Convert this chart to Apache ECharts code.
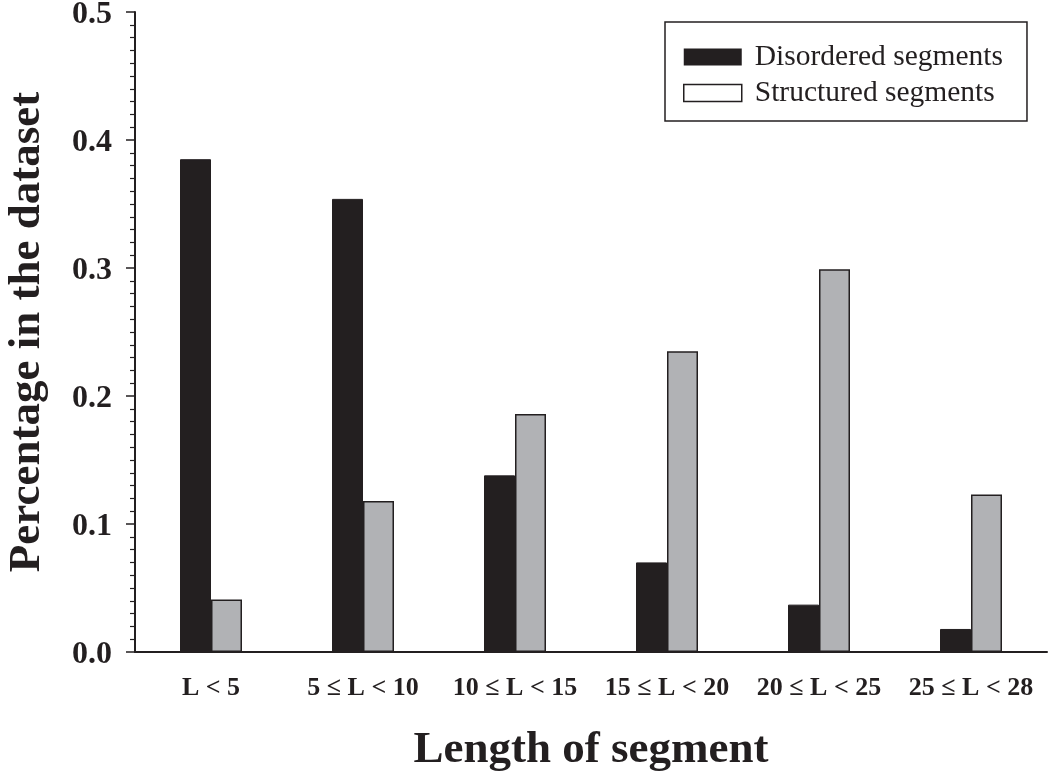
<!DOCTYPE html>
<html>
<head>
<meta charset="utf-8">
<style>
  html, body { margin: 0; padding: 0; background: #fff; }
  #chart { width: 1050px; height: 778px; }
</style>
<script src="https://cdn.jsdelivr.net/npm/echarts@6/dist/echarts.min.js"></script>
</head>
<body>
<div id="chart"></div>
<script>
// categories and values
var categories = ['L < 5', '5 \u2264 L < 10', '10 \u2264 L < 15', '15 \u2264 L < 20', '20 \u2264 L < 25', '25 \u2264 L < 28'];
var disordered = [0.385, 0.354, 0.138, 0.070, 0.037, 0.018];
var structured = [0.041, 0.118, 0.186, 0.235, 0.299, 0.123];
var yTicks = [0, 0.1, 0.2, 0.3, 0.4, 0.5];

var serif = '"Liberation Serif", "Times New Roman", serif';

var chart = echarts.init(document.getElementById('chart'));
var option = {
    backgroundColor: '#fff',
    animation: false,
    textStyle: { fontFamily: serif },
    grid: { left: 135, right: 3, top: 12, bottom: 126, containLabel: false, outerBoundsMode: 'none' },
    legend: {
        orient: 'vertical',
        left: 665,
        top: 22,
        borderColor: '#231f20',
        borderWidth: 1.5,
        padding: [20, 24, 13, 18],
        itemWidth: 58,
        itemHeight: 17,
        itemGap: 6,
        textStyle: { fontFamily: serif, fontSize: 29.5, color: '#231f20', padding: [0, 0, 0, 8] },
        data: [
            { name: 'Disordered segments', icon: 'rect', itemStyle: { color: '#231f20', borderWidth: 0 } },
            { name: 'Structured segments', icon: 'rect', itemStyle: { color: '#fff', borderColor: '#231f20', borderWidth: 1.5 } }
        ]
    },
    xAxis: {
        type: 'category',
        data: categories,
        name: 'Length of segment',
        nameLocation: 'middle',
        nameGap: 76,
        nameTextStyle: { fontFamily: serif, fontSize: 45, fontWeight: 'bold', color: '#231f20' },
        axisLine: { lineStyle: { color: '#231f20', width: 2 } },
        axisTick: { alignWithLabel: true, length: 10, lineStyle: { color: '#231f20', width: 1.5 } },
        axisLabel: { interval: 0, margin: 23, fontFamily: serif, fontSize: 26, fontWeight: 'bold', color: '#231f20' },
        splitLine: { show: false }
    },
    yAxis: {
        type: 'value',
        min: yTicks[0],
        max: yTicks[yTicks.length - 1],
        interval: 0.1,
        name: 'Percentage in the dataset',
        nameLocation: 'middle',
        nameGap: 85,
        nameTextStyle: { fontFamily: serif, fontSize: 45, fontWeight: 'bold', color: '#231f20' },
        axisLine: { show: true, lineStyle: { color: '#231f20', width: 2 } },
        axisTick: { show: true, length: 9, lineStyle: { color: '#231f20', width: 1.5 } },
        minorTick: { show: true, splitNumber: 10, length: 5, lineStyle: { color: '#231f20', width: 1.2 } },
        axisLabel: {
            margin: 23,
            verticalAlign: 'top',
            lineHeight: 6,
            fontFamily: serif, fontSize: 32, fontWeight: 'bold', color: '#231f20',
            formatter: function (v) { return v.toFixed(1); }
        },
        splitLine: { show: false }
    },
    series: [
        {
            name: 'Disordered segments',
            type: 'bar',
            data: disordered,
            barWidth: 31,
            barGap: '0%',
            itemStyle: { color: '#231f20', borderColor: '#231f20', borderWidth: 1 }
        },
        {
            name: 'Structured segments',
            type: 'bar',
            data: structured,
            barWidth: 31,
            itemStyle: { color: '#b1b2b5', borderColor: '#231f20', borderWidth: 1.5 }
        }
    ]
};
chart.setOption(option);

window.addEventListener('resize', function () {
    chart.resize();
});
</script>
</body>
</html>
